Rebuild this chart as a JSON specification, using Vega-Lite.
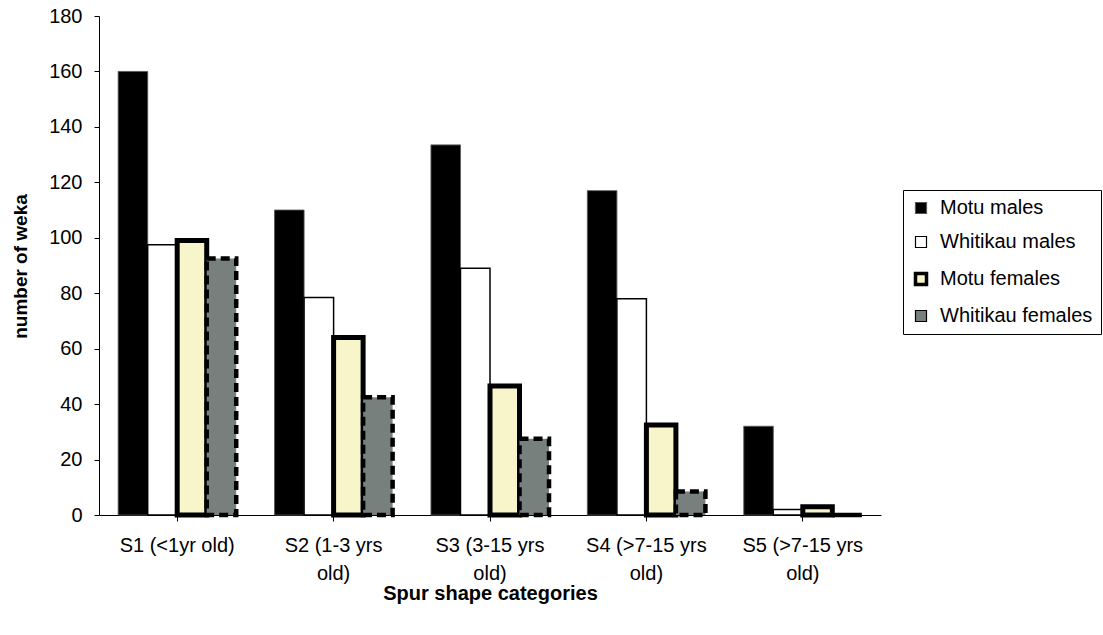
{
  "$schema": "https://vega.github.io/schema/vega-lite/v6.json",
  "width": 782,
  "height": 499,
  "autosize": "none",
  "padding": {"left": 99, "top": 16, "right": 222, "bottom": 120},
  "background": "#ffffff",
  "config": {
    "view": {"stroke": null},
    "font": "Liberation Sans",
    "axis": {
      "labelFont": "Liberation Sans",
      "titleFont": "Liberation Sans",
      "labelColor": "#000000",
      "titleColor": "#000000",
      "domainColor": "#000000",
      "tickColor": "#000000",
      "grid": false
    }
  },
  "data": {
    "values": [
      {"category": "S1 (<1yr old)", "group": "Motu males", "count": 160},
      {"category": "S2 (1-3 yrs old)", "group": "Motu males", "count": 110},
      {"category": "S3 (3-15 yrs old)", "group": "Motu males", "count": 133.5},
      {"category": "S4 (>7-15 yrs old)", "group": "Motu males", "count": 117},
      {"category": "S5 (>7-15 yrs old)", "group": "Motu males", "count": 32},
      {"category": "S1 (<1yr old)", "group": "Whitikau males", "count": 97.5},
      {"category": "S2 (1-3 yrs old)", "group": "Whitikau males", "count": 78.5},
      {"category": "S3 (3-15 yrs old)", "group": "Whitikau males", "count": 89},
      {"category": "S4 (>7-15 yrs old)", "group": "Whitikau males", "count": 78},
      {"category": "S5 (>7-15 yrs old)", "group": "Whitikau males", "count": 2},
      {"category": "S1 (<1yr old)", "group": "Motu females", "count": 99},
      {"category": "S2 (1-3 yrs old)", "group": "Motu females", "count": 64},
      {"category": "S3 (3-15 yrs old)", "group": "Motu females", "count": 46.5},
      {"category": "S4 (>7-15 yrs old)", "group": "Motu females", "count": 32.5},
      {"category": "S5 (>7-15 yrs old)", "group": "Motu females", "count": 3},
      {"category": "S1 (<1yr old)", "group": "Whitikau females", "count": 92.5},
      {"category": "S2 (1-3 yrs old)", "group": "Whitikau females", "count": 42.5},
      {"category": "S3 (3-15 yrs old)", "group": "Whitikau females", "count": 27.5},
      {"category": "S4 (>7-15 yrs old)", "group": "Whitikau females", "count": 8.5},
      {"category": "S5 (>7-15 yrs old)", "group": "Whitikau females", "count": 0}
    ]
  },
  "mark": {"type": "bar"},
  "encoding": {
    "x": {
      "field": "category",
      "type": "nominal",
      "sort": null,
      "scale": {"paddingInner": 0, "paddingOuter": 0},
      "title": "Spur shape categories",
      "axis": {
        "labelAngle": 0,
        "labelFontSize": 20,
        "labelLineHeight": 28,
        "labelPadding": 14,
        "labelLimit": 200,
        "labelExpr": "length(datum.value) > 13 ? [slice(datum.value, 0, length(datum.value) - 5), 'old)'] : datum.value",
        "tickSize": 6,
        "titleFontSize": 20,
        "titleFontWeight": "bold",
        "titlePadding": 0
      }
    },
    "xOffset": {
      "field": "group",
      "type": "nominal",
      "sort": ["Motu males", "Whitikau males", "Motu females", "Whitikau females"],
      "scale": {"paddingInner": 0, "paddingOuter": 0.65}
    },
    "y": {
      "field": "count",
      "type": "quantitative",
      "scale": {"domain": [0, 180], "nice": false},
      "title": "number of weka",
      "axis": {
        "values": [0, 20, 40, 60, 80, 100, 120, 140, 160, 180],
        "labelFontSize": 20,
        "labelPadding": 12,
        "tickSize": 5,
        "titleFontSize": 19,
        "titleFontWeight": "bold",
        "titleX": -73,
        "titleY": 250,
        "titleBaseline": "alphabetic"
      }
    },
    "fill": {
      "field": "group",
      "type": "nominal",
      "scale": {
        "domain": ["Motu males", "Whitikau males", "Motu females", "Whitikau females"],
        "range": ["#000000", "#ffffff", "#f8f5ca", "#78807e"]
      },
      "legend": {
        "title": null,
        "orient": "none",
        "direction": "vertical",
        "legendX": 804,
        "legendY": 174,
        "padding": 8,
        "strokeColor": "#000000",
        "fillColor": "#ffffff",
        "symbolType": "square",
        "symbolSize": 121,
        "symbolStrokeWidth": 1.5,
        "labelFontSize": 20,
        "labelFont": "Liberation Sans",
        "labelColor": "#000000",
        "labelOffset": 9,
        "labelLimit": 300,
        "rowPadding": 14,
        "encode": {
          "symbols": {
            "update": {
              "strokeWidth": {"signal": "datum.value == 'Motu females' ? 3.5 : 1.2"}
            }
          }
        }
      }
    },
    "stroke": {
      "field": "group",
      "type": "nominal",
      "scale": {
        "domain": ["Motu males", "Whitikau males", "Motu females", "Whitikau females"],
        "range": ["#555555", "#000000", "#000000", "#000000"]
      }
    },
    "strokeWidth": {
      "condition": [
        {"test": "datum.group == 'Motu females'", "value": 5},
        {"test": "datum.group == 'Whitikau females'", "value": 4.5},
        {"test": "datum.group == 'Whitikau males'", "value": 1.5}
      ],
      "value": 1
    },
    "strokeDash": {
      "condition": {"test": "datum.group == 'Whitikau females'", "value": [9, 5]},
      "value": [1, 0]
    }
  }
}
